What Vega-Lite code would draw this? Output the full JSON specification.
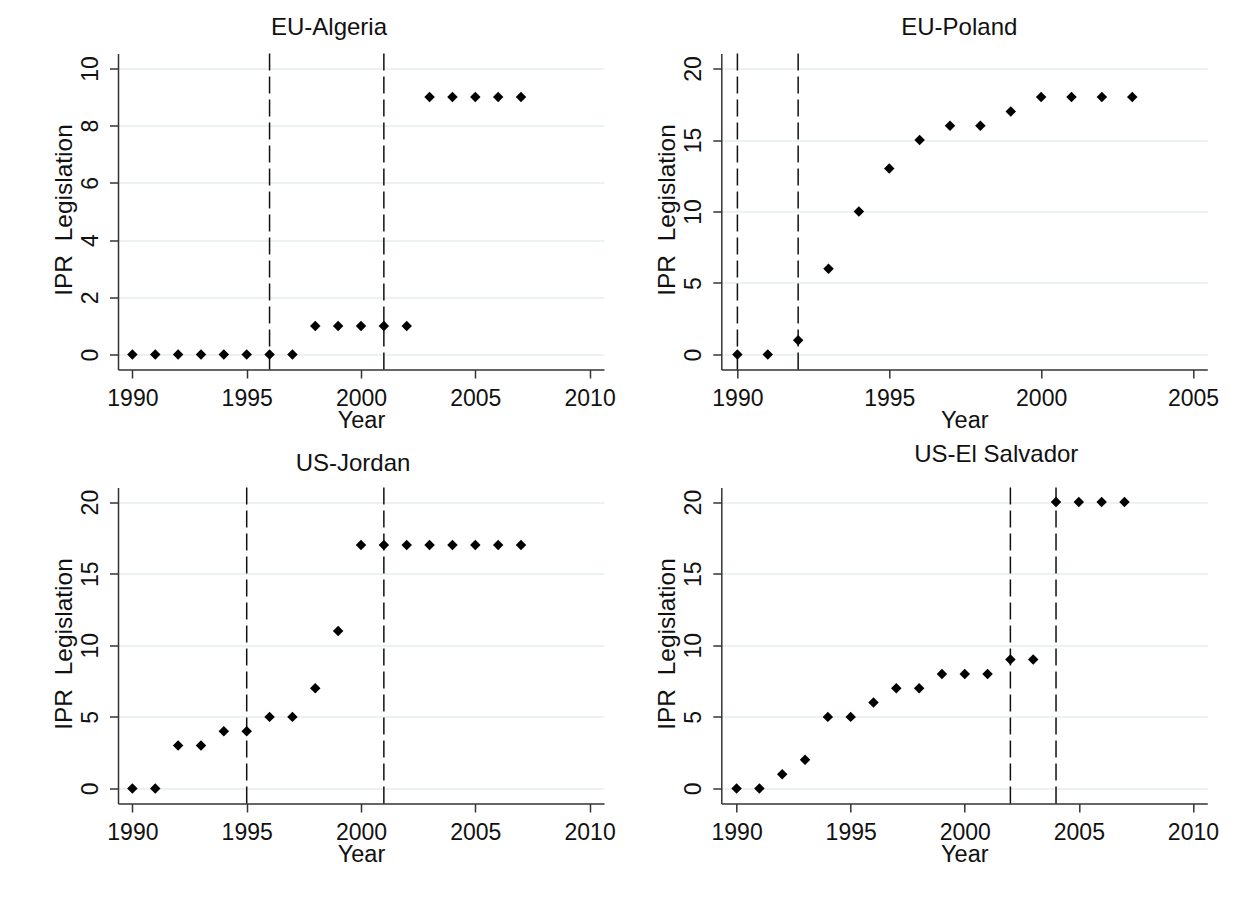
{
  "$schema": "https://vega.github.io/schema/vega-lite/v6.json",
  "background": "white",
  "padding": {"left": 51, "top": 15.5, "right": 5, "bottom": 5},
  "datasets": {
    "ipr": [
      {"pair": "EU-Algeria", "year": 1990, "ipr": 0},
      {"pair": "EU-Algeria", "year": 1991, "ipr": 0},
      {"pair": "EU-Algeria", "year": 1992, "ipr": 0},
      {"pair": "EU-Algeria", "year": 1993, "ipr": 0},
      {"pair": "EU-Algeria", "year": 1994, "ipr": 0},
      {"pair": "EU-Algeria", "year": 1995, "ipr": 0},
      {"pair": "EU-Algeria", "year": 1996, "ipr": 0},
      {"pair": "EU-Algeria", "year": 1997, "ipr": 0},
      {"pair": "EU-Algeria", "year": 1998, "ipr": 1},
      {"pair": "EU-Algeria", "year": 1999, "ipr": 1},
      {"pair": "EU-Algeria", "year": 2000, "ipr": 1},
      {"pair": "EU-Algeria", "year": 2001, "ipr": 1},
      {"pair": "EU-Algeria", "year": 2002, "ipr": 1},
      {"pair": "EU-Algeria", "year": 2003, "ipr": 9},
      {"pair": "EU-Algeria", "year": 2004, "ipr": 9},
      {"pair": "EU-Algeria", "year": 2005, "ipr": 9},
      {"pair": "EU-Algeria", "year": 2006, "ipr": 9},
      {"pair": "EU-Algeria", "year": 2007, "ipr": 9},
      {"pair": "EU-Poland", "year": 1990, "ipr": 0},
      {"pair": "EU-Poland", "year": 1991, "ipr": 0},
      {"pair": "EU-Poland", "year": 1992, "ipr": 1},
      {"pair": "EU-Poland", "year": 1993, "ipr": 6},
      {"pair": "EU-Poland", "year": 1994, "ipr": 10},
      {"pair": "EU-Poland", "year": 1995, "ipr": 13},
      {"pair": "EU-Poland", "year": 1996, "ipr": 15},
      {"pair": "EU-Poland", "year": 1997, "ipr": 16},
      {"pair": "EU-Poland", "year": 1998, "ipr": 16},
      {"pair": "EU-Poland", "year": 1999, "ipr": 17},
      {"pair": "EU-Poland", "year": 2000, "ipr": 18},
      {"pair": "EU-Poland", "year": 2001, "ipr": 18},
      {"pair": "EU-Poland", "year": 2002, "ipr": 18},
      {"pair": "EU-Poland", "year": 2003, "ipr": 18},
      {"pair": "US-Jordan", "year": 1990, "ipr": 0},
      {"pair": "US-Jordan", "year": 1991, "ipr": 0},
      {"pair": "US-Jordan", "year": 1992, "ipr": 3},
      {"pair": "US-Jordan", "year": 1993, "ipr": 3},
      {"pair": "US-Jordan", "year": 1994, "ipr": 4},
      {"pair": "US-Jordan", "year": 1995, "ipr": 4},
      {"pair": "US-Jordan", "year": 1996, "ipr": 5},
      {"pair": "US-Jordan", "year": 1997, "ipr": 5},
      {"pair": "US-Jordan", "year": 1998, "ipr": 7},
      {"pair": "US-Jordan", "year": 1999, "ipr": 11},
      {"pair": "US-Jordan", "year": 2000, "ipr": 17},
      {"pair": "US-Jordan", "year": 2001, "ipr": 17},
      {"pair": "US-Jordan", "year": 2002, "ipr": 17},
      {"pair": "US-Jordan", "year": 2003, "ipr": 17},
      {"pair": "US-Jordan", "year": 2004, "ipr": 17},
      {"pair": "US-Jordan", "year": 2005, "ipr": 17},
      {"pair": "US-Jordan", "year": 2006, "ipr": 17},
      {"pair": "US-Jordan", "year": 2007, "ipr": 17},
      {"pair": "US-El Salvador", "year": 1990, "ipr": 0},
      {"pair": "US-El Salvador", "year": 1991, "ipr": 0},
      {"pair": "US-El Salvador", "year": 1992, "ipr": 1},
      {"pair": "US-El Salvador", "year": 1993, "ipr": 2},
      {"pair": "US-El Salvador", "year": 1994, "ipr": 5},
      {"pair": "US-El Salvador", "year": 1995, "ipr": 5},
      {"pair": "US-El Salvador", "year": 1996, "ipr": 6},
      {"pair": "US-El Salvador", "year": 1997, "ipr": 7},
      {"pair": "US-El Salvador", "year": 1998, "ipr": 7},
      {"pair": "US-El Salvador", "year": 1999, "ipr": 8},
      {"pair": "US-El Salvador", "year": 2000, "ipr": 8},
      {"pair": "US-El Salvador", "year": 2001, "ipr": 8},
      {"pair": "US-El Salvador", "year": 2002, "ipr": 9},
      {"pair": "US-El Salvador", "year": 2003, "ipr": 9},
      {"pair": "US-El Salvador", "year": 2004, "ipr": 20},
      {"pair": "US-El Salvador", "year": 2005, "ipr": 20},
      {"pair": "US-El Salvador", "year": 2006, "ipr": 20},
      {"pair": "US-El Salvador", "year": 2007, "ipr": 20}
    ],
    "events": [
      {"pair": "EU-Algeria", "year": 1996},
      {"pair": "EU-Algeria", "year": 2001},
      {"pair": "EU-Poland", "year": 1990},
      {"pair": "EU-Poland", "year": 1992},
      {"pair": "US-Jordan", "year": 1995},
      {"pair": "US-Jordan", "year": 2001},
      {"pair": "US-El Salvador", "year": 2002},
      {"pair": "US-El Salvador", "year": 2004}
    ]
  },
  "columns": 2,
  "spacing": {"row": 118, "column": 117.3},
  "bounds": "flush",
  "concat": [
    {
      "width": 486, "height": 316,
      "title": {"text": "EU-Algeria", "dx": -32, "offset": 12.6},
      "encoding": {
        "x": {"field": "year", "type": "quantitative", "title": "Year",
              "scale": {"domain": [1989.37, 2010.63], "nice": false, "zero": false},
              "axis": {"values": [1990, 1995, 2000, 2005, 2010], "format": "d"}}
      },
      "layer": [
        {"data": {"name": "events"}, "transform": [{"filter": "datum.pair === 'EU-Algeria'"}],
         "mark": {"type": "rule", "color": "#111111", "strokeWidth": 1.5, "strokeDash": [17, 6]},
         "encoding": {}},
        {"data": {"name": "ipr"}, "transform": [{"filter": "datum.pair === 'EU-Algeria'"}],
         "mark": {"type": "point", "shape": "diamond", "filled": true, "color": "#000000", "size": 110, "opacity": 1},
         "encoding": {
           "y": {"field": "ipr", "type": "quantitative", "title": "IPR\u00a0 Legislation",
                 "scale": {"domain": [-0.52, 10.52], "nice": false, "zero": false},
                 "axis": {"values": [0, 2, 4, 6, 8, 10], "format": "d"}}
         }}
      ]
    },
    {
      "width": 486, "height": 316,
      "title": {"text": "EU-Poland", "dx": -5, "offset": 12.6},
      "encoding": {
        "x": {"field": "year", "type": "quantitative", "title": "Year",
              "scale": {"domain": [1989.47, 2005.47], "nice": false, "zero": false},
              "axis": {"values": [1990, 1995, 2000, 2005], "format": "d"}}
      },
      "layer": [
        {"data": {"name": "events"}, "transform": [{"filter": "datum.pair === 'EU-Poland'"}],
         "mark": {"type": "rule", "color": "#111111", "strokeWidth": 1.5, "strokeDash": [17, 6]},
         "encoding": {}},
        {"data": {"name": "ipr"}, "transform": [{"filter": "datum.pair === 'EU-Poland'"}],
         "mark": {"type": "point", "shape": "diamond", "filled": true, "color": "#000000", "size": 110, "opacity": 1},
         "encoding": {
           "y": {"field": "ipr", "type": "quantitative", "title": "IPR\u00a0 Legislation",
                 "scale": {"domain": [-1.05, 21.05], "nice": false, "zero": false},
                 "axis": {"values": [0, 5, 10, 15, 20], "format": "d"}}
         }}
      ]
    },
    {
      "width": 486, "height": 316,
      "title": {"text": "US-Jordan", "dx": -8, "offset": 10.4},
      "encoding": {
        "x": {"field": "year", "type": "quantitative", "title": "Year",
              "scale": {"domain": [1989.37, 2010.63], "nice": false, "zero": false},
              "axis": {"values": [1990, 1995, 2000, 2005, 2010], "format": "d"}}
      },
      "layer": [
        {"data": {"name": "events"}, "transform": [{"filter": "datum.pair === 'US-Jordan'"}],
         "mark": {"type": "rule", "color": "#111111", "strokeWidth": 1.5, "strokeDash": [17, 6]},
         "encoding": {}},
        {"data": {"name": "ipr"}, "transform": [{"filter": "datum.pair === 'US-Jordan'"}],
         "mark": {"type": "point", "shape": "diamond", "filled": true, "color": "#000000", "size": 110, "opacity": 1},
         "encoding": {
           "y": {"field": "ipr", "type": "quantitative", "title": "IPR\u00a0 Legislation",
                 "scale": {"domain": [-1.05, 21.02], "nice": false, "zero": false},
                 "axis": {"values": [0, 5, 10, 15, 20], "format": "d"}}
         }}
      ]
    },
    {
      "width": 486, "height": 316,
      "title": {"text": "US-El Salvador", "dx": 32, "offset": 19.4},
      "encoding": {
        "x": {"field": "year", "type": "quantitative", "title": "Year",
              "scale": {"domain": [1989.33, 2010.63], "nice": false, "zero": false},
              "axis": {"values": [1990, 1995, 2000, 2005, 2010], "format": "d"}}
      },
      "layer": [
        {"data": {"name": "events"}, "transform": [{"filter": "datum.pair === 'US-El Salvador'"}],
         "mark": {"type": "rule", "color": "#111111", "strokeWidth": 1.5, "strokeDash": [17, 6]},
         "encoding": {}},
        {"data": {"name": "ipr"}, "transform": [{"filter": "datum.pair === 'US-El Salvador'"}],
         "mark": {"type": "point", "shape": "diamond", "filled": true, "color": "#000000", "size": 110, "opacity": 1},
         "encoding": {
           "y": {"field": "ipr", "type": "quantitative", "title": "IPR\u00a0 Legislation",
                 "scale": {"domain": [-1.05, 21.02], "nice": false, "zero": false},
                 "axis": {"values": [0, 5, 10, 15, 20], "format": "d"}}
         }}
      ]
    }
  ],
  "config": {
    "font": "Liberation Sans",
    "view": {"stroke": null},
    "title": {"font": "Liberation Sans", "fontSize": 24, "fontWeight": "normal", "color": "#111111",
              "anchor": "middle", "frame": "group", "baseline": "alphabetic"},
    "axis": {
      "labelFont": "Liberation Sans", "titleFont": "Liberation Sans",
      "labelFontSize": 23, "titleFontSize": 23.5, "titleFontWeight": "normal",
      "labelColor": "#111111", "titleColor": "#111111",
      "domainColor": "#333333", "tickColor": "#333333",
      "domainWidth": 1.5, "tickWidth": 1.5, "tickSize": 8.5,
      "labelOverlap": false, "labelFlush": false
    },
    "axisX": {
      "grid": false, "labelBaseline": "alphabetic", "labelPadding": 27.2,
      "titleBaseline": "alphabetic", "titleY": 57.7, "titleX": 243, "titleAnchor": "middle", "titleAlign": "center"
    },
    "axisY": {
      "grid": true, "gridColor": "#e6eef1", "gridWidth": 1.5,
      "labelAngle": 270, "labelAlign": "center", "labelBaseline": "alphabetic", "labelPadding": 12,
      "titleFontSize": 24.5,
      "titleAngle": 270, "titleBaseline": "alphabetic", "titleAlign": "center", "titleX": -47, "titleY": 156
    }
  }
}
